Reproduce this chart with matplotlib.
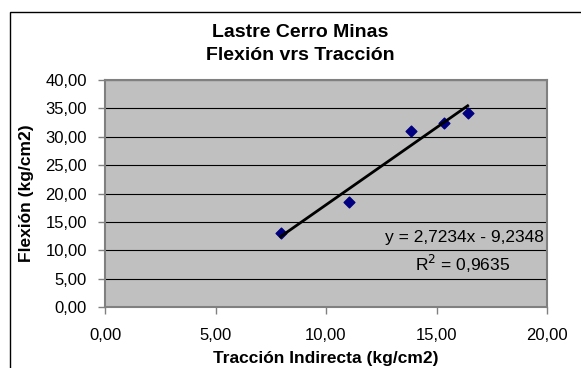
import matplotlib
matplotlib.use("Agg")
import matplotlib.pyplot as plt
import numpy as np
from matplotlib.patches import Rectangle
from matplotlib.ticker import FuncFormatter, MultipleLocator

plt.rcParams['font.family'] = ['Liberation Sans', 'DejaVu Sans']

# data
traccion = [7.95, 11.04, 13.85, 15.33, 16.41]
flexion = [12.99, 18.45, 30.96, 32.48, 34.13]
slope = 2.7234
intercept = -9.2348
r2 = 0.9635

fig = plt.figure(figsize=(5.81, 3.68), dpi=100)
fig.patch.set_facecolor('white')

# outer chart frame
fig.patches.append(Rectangle((10 / 581, -0.01), 1.2, (368 - 12) / 368 + 0.01,
                             transform=fig.transFigure, fill=False,
                             edgecolor='black', linewidth=1.0))

ax = fig.add_axes([105 / 581, (368 - 307) / 368, 442 / 581, 227 / 368])
ax.set_facecolor('#C0C0C0')
ax.set_xlim(0, 20)
ax.set_ylim(0, 40)
ax.xaxis.set_major_locator(MultipleLocator(5))
ax.yaxis.set_major_locator(MultipleLocator(5))
fmt = FuncFormatter(lambda v, p: f"{v:.2f}".replace('.', ','))
ax.xaxis.set_major_formatter(fmt)
ax.yaxis.set_major_formatter(fmt)
ax.grid(axis='y', color='black', linewidth=0.8)
ax.set_axisbelow(True)
for s in ax.spines.values():
    s.set_color('#808080')
    s.set_linewidth(1.5)
ax.tick_params(direction='out', length=5, width=1, color='#808080',
               labelsize=12)
ax.tick_params(axis='x', pad=10)
ax.tick_params(axis='y', pad=8)

ax.scatter(traccion, flexion, marker='D', s=30, color='#000080', zorder=3)

xs = np.array([min(traccion), max(traccion)])
ax.plot(xs, slope * xs + intercept, color='black', linewidth=2, zorder=4)

ax.text(19.85, 12.3, f"y = {slope:.4f}x - {abs(intercept):.4f}".replace('.', ','),
        ha='right', va='center', fontsize=12.5)
ax.text(16.2, 7.5, f"R$^2$ = {r2:.4f}".replace('.', ','),
        ha='center', va='center', fontsize=12.5)

ax.set_xlabel('Tracción Indirecta (kg/cm2)', fontsize=12.5, fontweight='bold')
ax.xaxis.set_label_coords(0.5, (307 - 359) / 227)
ax.xaxis.label.set_va('center')
ax.set_ylabel('Flexión (kg/cm2)', fontsize=12.5, fontweight='bold')
ax.yaxis.set_label_coords((26 - 105) / 442, 0.5)
ax.yaxis.label.set_va('center')

fig.text(300 / 581, 1 - 32.5 / 368, 'Lastre Cerro Minas',
         ha='center', va='center', fontsize=14, fontweight='bold')
fig.text(300 / 581, 1 - 55 / 368, 'Flexión vrs Tracción',
         ha='center', va='center', fontsize=14, fontweight='bold')

fig.savefig('out.png', dpi=100)
